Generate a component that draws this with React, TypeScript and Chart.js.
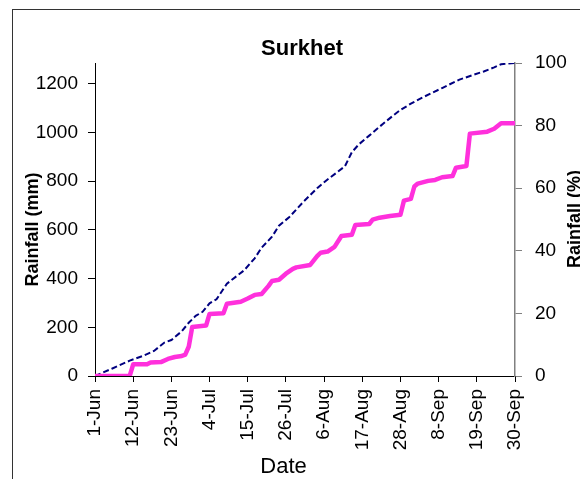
import React, { useEffect, useRef } from 'react';
import { Chart, registerables } from 'chart.js';

Chart.register(...registerables);

const chartTitle = 'Surkhet';
const xTitle = 'Date';
const leftTitle = 'Rainfall (mm)';
const rightTitle = 'Rainfall (%)';

const tickLabels = ['1-Jun', '12-Jun', '23-Jun', '4-Jul', '15-Jul', '26-Jul', '6-Aug', '17-Aug', '28-Aug', '8-Sep', '19-Sep', '30-Sep'];

// days counted from 1-Jun (day 0) to 30-Sep (day 121)
const rainDays = [0, 10, 11, 15, 16, 19, 21, 23, 25, 26, 27, 28, 32, 33, 37, 38, 42, 44, 46, 48, 50, 51, 53, 55, 57, 58, 62, 64, 65, 67, 69, 71, 74, 75, 79, 80, 82, 85, 88, 89, 91, 92, 93, 96, 98, 100, 103, 104, 107, 108, 113, 115, 117, 121];
const rainMm = [0, 0, 48, 48, 55, 57, 70, 78, 82, 88, 120, 201, 207, 255, 258, 297, 305, 318, 333, 337, 370, 390, 395, 420, 440, 446, 456, 492, 506, 511, 530, 575, 580, 620, 624, 642, 650, 657, 662, 720, 727, 778, 790, 801, 805, 816, 821, 855, 862, 995, 1003, 1015, 1038, 1038];

const pctDays = [0, 5, 10, 14, 17, 20, 22, 25, 27, 29, 31, 33, 35, 38, 43, 46, 48, 51, 53, 56, 58, 60, 64, 67, 70, 72, 74, 76, 79, 83, 86, 88, 91, 94, 100, 105, 109, 112, 115, 117, 121];
const pctValues = [0, 2.4, 4.9, 6.5, 8, 10.7, 11.5, 14.3, 17, 19.2, 20.5, 23.2, 24.5, 29.5, 33.8, 37.6, 41, 44.5, 48, 50.8, 53.2, 55.6, 60, 62.8, 65.3, 67, 71.5, 74, 76.8, 80.6, 83.3, 85, 87, 88.8, 92, 94.7, 96.2, 97.3, 98.6, 99.6, 100];

const FAMILY = '"Liberation Sans", Arial, sans-serif';

const decor = {
  id: 'decor',
  beforeDraw(chart: any) {
    const ctx = chart.ctx;
    ctx.save();
    ctx.fillStyle = '#ffffff';
    ctx.fillRect(0, 0, chart.width, chart.height);
    ctx.fillStyle = '#333333';
    ctx.fillRect(12, 9, chart.width - 12, 1);
    ctx.fillRect(12, 9, 1, chart.height - 9);
    ctx.restore();
  },
  afterDraw(chart: any) {
    const ctx = chart.ctx;
    ctx.save();
    ctx.fillStyle = '#000000';
    ctx.textAlign = 'center';
    ctx.textBaseline = 'alphabetic';
    ctx.font = `bold 22px ${FAMILY}`;
    ctx.fillText(chartTitle, 302, 55);
    ctx.font = `22px ${FAMILY}`;
    ctx.fillText(xTitle, 283.5, 473);
    ctx.font = `bold 18px ${FAMILY}`;
    ctx.save();
    ctx.translate(38, 229.5);
    ctx.rotate(-Math.PI / 2);
    ctx.fillText(leftTitle, 0, 0);
    ctx.restore();
    ctx.save();
    ctx.translate(580, 219);
    ctx.rotate(-Math.PI / 2);
    ctx.fillText(rightTitle, 0, 0);
    ctx.restore();
    ctx.restore();
  },
};

export default function App() {
  const ref = useRef<HTMLCanvasElement | null>(null);

  useEffect(() => {
    if (!ref.current) return;
    const tickFont = { size: 19, family: FAMILY };
    const chart = new Chart(ref.current, {
      type: 'line',
      data: {
        datasets: [
          {
            label: 'Rainfall (mm)',
            data: rainDays.map((d, i) => ({ x: d, y: rainMm[i] })),
            borderColor: '#FF30DC',
            backgroundColor: '#FF30DC',
            borderWidth: 4.5,
            pointRadius: 0,
            tension: 0,
            yAxisID: 'y',
            borderJoinStyle: 'round',
            borderCapStyle: 'round',
          },
          {
            label: 'Rainfall (%)',
            data: pctDays.map((d, i) => ({ x: d, y: pctValues[i] })),
            borderColor: '#000080',
            backgroundColor: '#000080',
            borderWidth: 2,
            borderDash: [6, 3],
            pointRadius: 0,
            tension: 0,
            yAxisID: 'y2',
          },
        ],
      },
      options: {
        responsive: false,
        animation: false,
        events: [],
        layout: { padding: { top: 63, left: 0, right: 0, bottom: 0 } },
        plugins: {
          legend: { display: false },
          title: { display: false },
          tooltip: { enabled: false },
        },
        scales: {
          x: {
            type: 'linear',
            position: 'bottom',
            min: 0,
            max: 121,
            ticks: {
              stepSize: 11,
              autoSkip: false,
              maxRotation: 90,
              minRotation: 90,
              padding: 7,
              color: '#000',
              font: tickFont,
              callback: (v: any) => {
                const idx = Math.round(Number(v) / 11);
                return Math.abs(Number(v) - idx * 11) < 0.01 ? tickLabels[idx] ?? '' : '';
              },
            },
            grid: { drawOnChartArea: false, drawTicks: true, tickLength: 6, color: '#000' },
            border: { color: '#000', width: 1 },
            afterFit: (s: any) => {
              s.height = 103;
            },
          },
          y: {
            type: 'linear',
            position: 'left',
            min: 0,
            max: 1285,
            ticks: {
              stepSize: 200,
              includeBounds: false,
              padding: 10,
              color: '#000',
              font: tickFont,
              callback: (v: any) => String(v),
            },
            grid: { drawOnChartArea: false, drawTicks: true, tickLength: 7, color: '#000' },
            border: { color: '#000', width: 1 },
            afterFit: (s: any) => {
              s.width = 95;
            },
          },
          y2: {
            type: 'linear',
            position: 'right',
            min: 0,
            max: 100,
            ticks: {
              stepSize: 20,
              padding: 13,
              color: '#000',
              font: tickFont,
              callback: (v: any) => String(v),
            },
            grid: { drawOnChartArea: false, drawTicks: true, tickLength: 7, color: '#808080' },
            border: { color: '#808080', width: 1.5 },
            afterFit: (s: any) => {
              s.width = 65;
            },
          },
        },
      } as any,
      plugins: [decor],
    });
    return () => chart.destroy();
  }, []);

  return (
    <div style={{ position: 'fixed', left: 0, top: 0, width: 580, height: 479, background: '#fff' }}>
      <canvas ref={ref} width={580} height={479} style={{ display: 'block', width: 580, height: 479 }} />
    </div>
  );
}
